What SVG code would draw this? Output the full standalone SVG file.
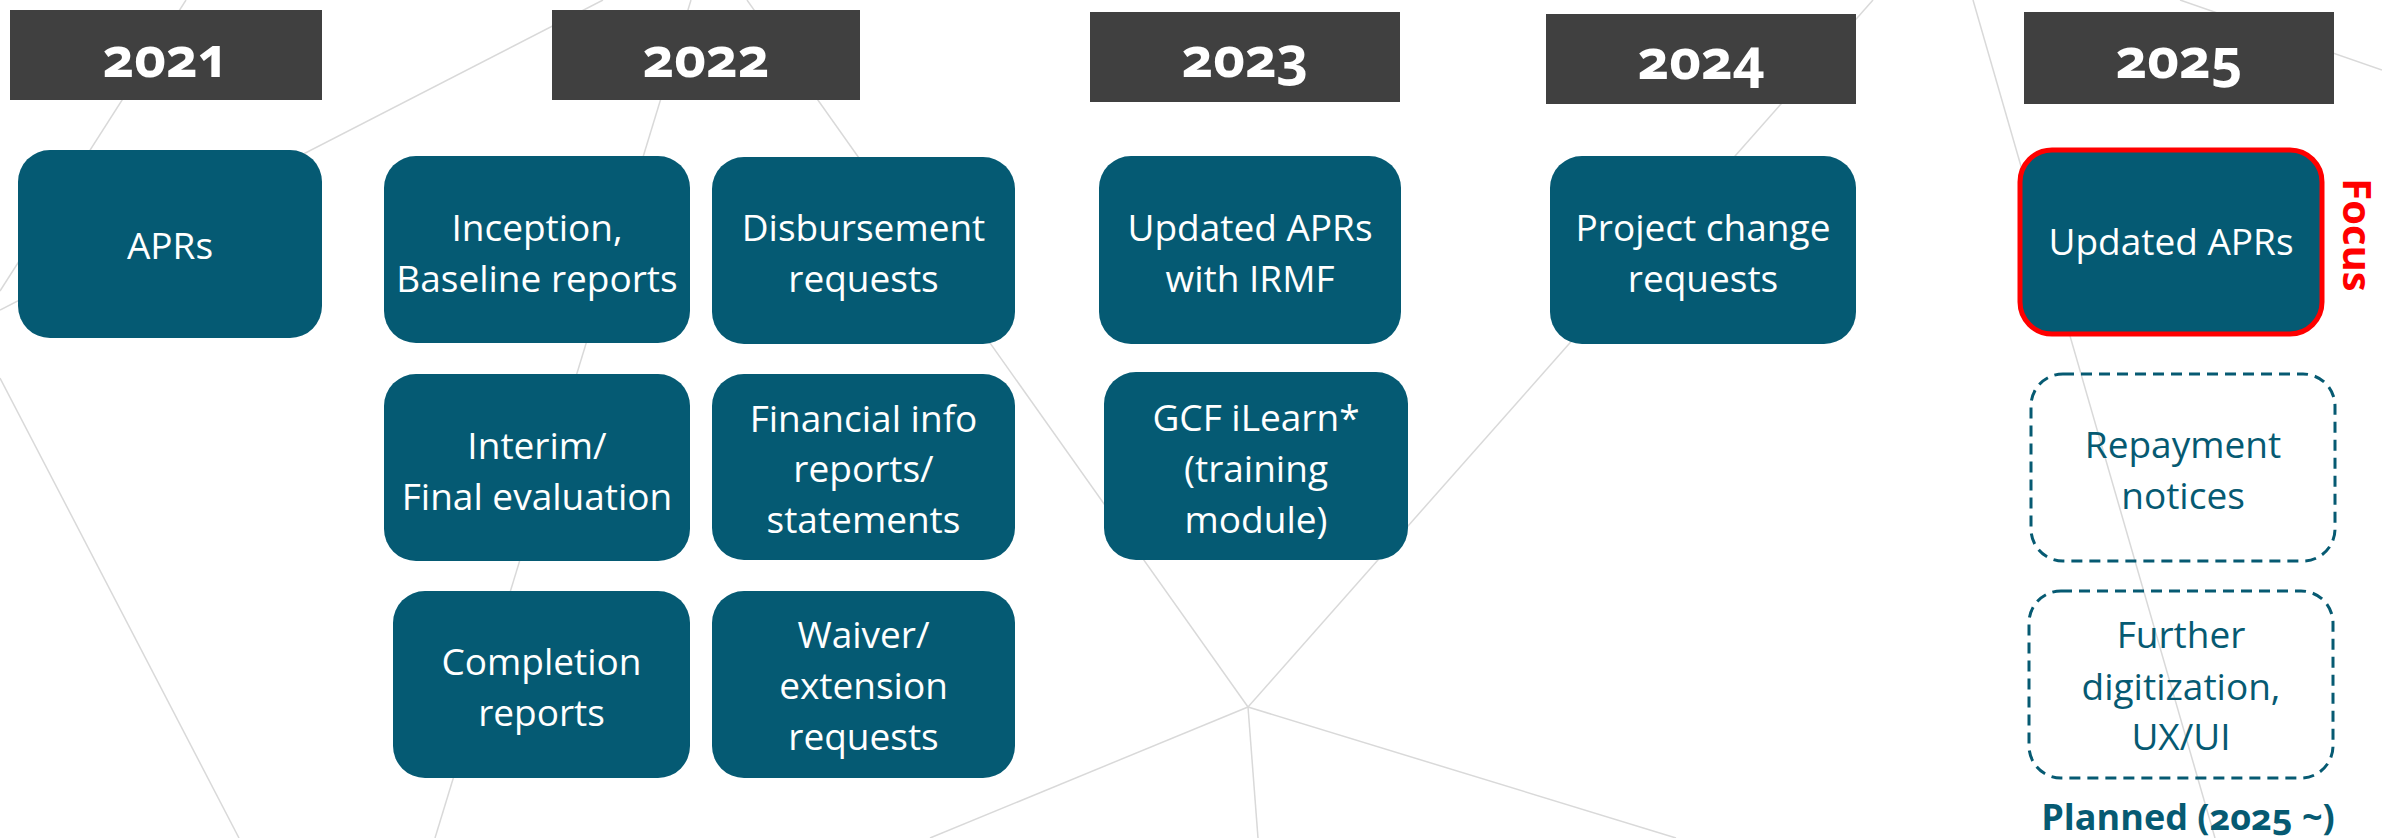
<svg xmlns="http://www.w3.org/2000/svg" width="2382" height="838" viewBox="0 0 2382 838">
<style>
.bg{stroke:#d9d9d9;stroke-width:1.5;fill:none}
.hdr{fill:#404040}
.yr{font-family:"Open Sans","Liberation Sans",sans-serif;font-weight:700;font-size:55px;fill:#ffffff;text-anchor:middle;font-variant-numeric:oldstyle-nums;font-feature-settings:"onum" 1}
.box{fill:#055a73}
.focus{fill:#055a73;stroke:#ff0000;stroke-width:5}
.dash{fill:none;stroke:#065a72;stroke-width:3;stroke-dasharray:11 7}
.t{font-family:"Open Sans","Liberation Sans",sans-serif;font-size:37px;fill:#ffffff;text-anchor:middle}
.td{font-family:"Open Sans","Liberation Sans",sans-serif;font-size:37px;fill:#065a72;text-anchor:middle}
.red{font-family:"Open Sans","Liberation Sans",sans-serif;font-weight:700;font-size:40px;fill:#ff0000;text-anchor:middle}
.pl{font-family:"Open Sans","Liberation Sans",sans-serif;font-weight:700;font-size:36px;fill:#065a72;text-anchor:middle;font-variant-numeric:oldstyle-nums;font-feature-settings:"onum" 1}
</style>
<rect width="2382" height="838" fill="#ffffff"/>
<g id="background-lines">
<line class="bg" x1="186" y1="0" x2="0" y2="291"/>
<line class="bg" x1="603" y1="0" x2="0" y2="310"/>
<line class="bg" x1="691" y1="0" x2="435" y2="838"/>
<line class="bg" x1="0" y1="378" x2="239" y2="838"/>
<line class="bg" x1="747" y1="0" x2="1248" y2="707"/>
<line class="bg" x1="1873" y1="0" x2="1248" y2="707"/>
<line class="bg" x1="1248" y1="707" x2="930" y2="838"/>
<line class="bg" x1="1248" y1="707" x2="1258" y2="838"/>
<line class="bg" x1="1248" y1="707" x2="1676" y2="838"/>
<line class="bg" x1="1973" y1="0" x2="2215" y2="838"/>
<line class="bg" x1="2180" y1="0" x2="2382" y2="70"/>
</g>
<g id="header-2021"><rect class="hdr" x="10" y="10" width="312" height="90"/><text class="yr" x="166" y="77">2021</text></g>
<g id="header-2022"><rect class="hdr" x="552" y="10" width="308" height="90"/><text class="yr" x="706" y="77">2022</text></g>
<g id="header-2023"><rect class="hdr" x="1090" y="12" width="310" height="90"/><text class="yr" x="1245" y="77">2023</text></g>
<g id="header-2024"><rect class="hdr" x="1546" y="14" width="310" height="90"/><text class="yr" x="1701" y="79">2024</text></g>
<g id="header-2025"><rect class="hdr" x="2024" y="12" width="310" height="92"/><text class="yr" x="2179" y="78">2025</text></g>

<g id="node-aprs-2021"><rect class="box" x="18" y="150" width="304" height="188" rx="32"/><text class="t" x="170" y="259">APRs</text></g>
<g id="node-inception"><rect class="box" x="384" y="156" width="306" height="187" rx="32"/><text class="t" x="537" y="241">Inception,</text><text class="t" x="537" y="292">Baseline reports</text></g>
<g id="node-disbursement"><rect class="box" x="712" y="157" width="303" height="187" rx="32"/><text class="t" x="863.5" y="241">Disbursement</text><text class="t" x="863.5" y="292">requests</text></g>
<g id="node-interim"><rect class="box" x="384" y="374" width="306" height="187" rx="32"/><text class="t" x="537" y="459">Interim/</text><text class="t" x="537" y="510">Final evaluation</text></g>
<g id="node-financial"><rect class="box" x="712" y="374" width="303" height="186" rx="32"/><text class="t" x="863.5" y="432">Financial info</text><text class="t" x="863.5" y="482">reports/</text><text class="t" x="863.5" y="533">statements</text></g>
<g id="node-completion"><rect class="box" x="393" y="591" width="297" height="187" rx="32"/><text class="t" x="541.5" y="675">Completion</text><text class="t" x="541.5" y="726">reports</text></g>
<g id="node-waiver"><rect class="box" x="712" y="591" width="303" height="187" rx="32"/><text class="t" x="863.5" y="648">Waiver/</text><text class="t" x="863.5" y="699">extension</text><text class="t" x="863.5" y="750">requests</text></g>
<g id="node-updated-aprs-irmf"><rect class="box" x="1099" y="156" width="302" height="188" rx="32"/><text class="t" x="1250" y="241">Updated APRs</text><text class="t" x="1250" y="292">with IRMF</text></g>
<g id="node-gcf-ilearn"><rect class="box" x="1104" y="372" width="304" height="188" rx="32"/><text class="t" x="1256" y="431">GCF iLearn*</text><text class="t" x="1256" y="482">(training</text><text class="t" x="1256" y="533">module)</text></g>
<g id="node-project-change"><rect class="box" x="1550" y="156" width="306" height="188" rx="32"/><text class="t" x="1703" y="241">Project change</text><text class="t" x="1703" y="292">requests</text></g>
<g id="node-updated-aprs-2025"><rect class="focus" x="2020" y="150" width="302" height="184" rx="32"/><text class="t" x="2171" y="255">Updated APRs</text></g>
<g id="label-focus"><text class="red" transform="translate(2343,235) rotate(90)">Focus</text></g>
<g id="node-repayment"><rect class="dash" x="2031" y="374" width="304" height="187" rx="32"/><text class="td" x="2183" y="458">Repayment</text><text class="td" x="2183" y="509">notices</text></g>
<g id="node-further"><rect class="dash" x="2029" y="591" width="304" height="187" rx="32"/><text class="td" x="2181" y="648">Further</text><text class="td" x="2181" y="700">digitization,</text><text class="td" x="2181" y="750">UX/UI</text></g>
<g id="label-planned"><text class="pl" x="2188" y="830">Planned (2025 ~)</text></g>
</svg>
